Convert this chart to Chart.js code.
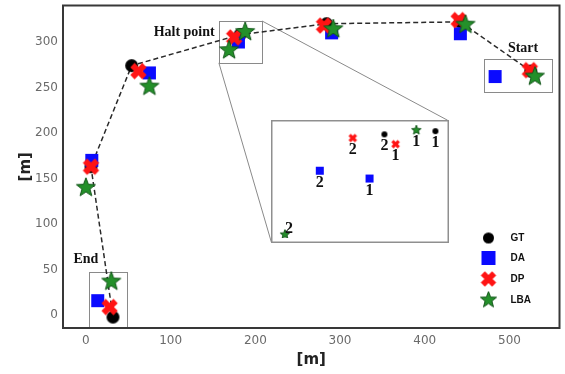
<!DOCTYPE html>
<html>
<head>
<meta charset="utf-8">
<script src="https://cdn.jsdelivr.net/npm/chart.js@4/dist/chart.umd.min.js"></script>
<style>
  html, body { margin: 0; padding: 0; background: #fff; }
  #wrap { position: relative; width: 565px; height: 374px; }
  #main { position: absolute; left: 0; top: 0; }
  #insetBox { position: absolute; }
  #inset { display: block; background: #fff; }
</style>
</head>
<body>
<div id="wrap">
  <canvas id="main" width="565" height="374"></canvas>
  <div id="insetBox"><canvas id="inset"></canvas></div>
</div>
<script>
// Estimated positions along the route [m]
const gtX  = [525, 442, 284, 182, 54, 6, 32];
const gtY  = [268, 322, 320, 308, 274, 163, -2];
const daX  = [483, 442, 290, 180, 75, 7, 14];
const daY  = [262, 309, 310, 300, 266, 170, 16];
const dpX  = [524, 440, 281, 175, 62, 6, 28];
const dpY  = [269, 324, 318, 305, 268, 163, 9];
const lbaX = [530, 448, 292, 188, 169, 75, 0, 30];
const lbaY = [262, 319, 314, 311, 291, 251, 140, 37];

// Close-up of the halt point: first and second visit
const visitLabels = ['1', '2'];
const insetGtX  = [205.4, 189.9];
const insetGtY  = [320.5, 319.2];
const insetDaX  = [185.4, 170.3];
const insetDaY  = [301.2, 304.4];
const insetDpX  = [193.3, 180.3];
const insetDpY  = [315.2, 317.7];
const insetLbaX = [199.6, 159.7];
const insetLbaY = [320.9, 278.4];
const haltZoomX = [157, 208];
const haltZoomY = [277, 323];

// Axis ticks
const xTicks = [0, 100, 200, 300, 400, 500];
const yTicks = [0, 50, 100, 150, 200, 250, 300];

const seriesNames = ['GT', 'DA', 'DP', 'LBA'];

const pts = (xs, ys) => xs.map((x, i) => ({ x, y: ys[i] }));

// Marker images
function marker(kind, size) {
  const pad = 3;
  const c = document.createElement('canvas');
  c.width = c.height = Math.ceil(size + pad * 2);
  const g = c.getContext('2d');
  const cx = c.width / 2, cy = c.height / 2, r = size / 2;
  if (kind === 'circle') {
    g.fillStyle = '#000';
    g.beginPath(); g.arc(cx, cy, r, 0, Math.PI * 2); g.fill();
  } else if (kind === 'square') {
    g.fillStyle = '#0a0aff';
    g.fillRect(cx - r, cy - r, size, size);
  } else if (kind === 'x') {
    const w = r * 0.36;
    g.save(); g.translate(cx, cy); g.rotate(Math.PI / 4);
    g.fillStyle = '#ff1414';
    g.beginPath();
    g.moveTo(-w, -r); g.lineTo(w, -r); g.lineTo(w, -w); g.lineTo(r, -w);
    g.lineTo(r, w); g.lineTo(w, w); g.lineTo(w, r); g.lineTo(-w, r);
    g.lineTo(-w, w); g.lineTo(-r, w); g.lineTo(-r, -w); g.lineTo(-w, -w);
    g.closePath(); g.fill();
    g.restore();
  } else if (kind === 'star') {
    const inner = r * 0.42;
    g.beginPath();
    for (let i = 0; i < 10; i++) {
      const rr = i % 2 === 0 ? r : inner;
      const a = -Math.PI / 2 + i * Math.PI / 5;
      const px = cx + rr * Math.cos(a), py = cy + rr * Math.sin(a);
      i === 0 ? g.moveTo(px, py) : g.lineTo(px, py);
    }
    g.closePath();
    g.fillStyle = '#24902a';
    g.fill();
    g.lineWidth = 1;
    g.strokeStyle = '#13561a';
    g.stroke();
  }
  return c;
}

const mainMarkers = [marker('circle', 13), marker('square', 13), marker('x', 17), marker('star', 20)];
const legendMarkers = [marker('circle', 11), marker('square', 14), marker('x', 16), marker('star', 17)];
const insetMarkers = [marker('circle', 6), marker('square', 8), marker('x', 9), marker('star', 10)];

// Boxes, connectors, labels, frame and legend for the main plot
const decor = {
  id: 'decor',
  beforeDatasetsDraw(chart) {
    const { ctx, scales: { x, y } } = chart;
    const X = v => x.getPixelForValue(v), Y = v => y.getPixelForValue(v);
    ctx.save();
    ctx.strokeStyle = '#8a8a8a';
    ctx.lineWidth = 1;
    const rect = (x0, x1, y0, y1) => {
      ctx.strokeRect(Math.round(X(x0)) + 0.5, Math.round(Y(y1)) + 0.5,
        Math.round(X(x1) - X(x0)), Math.round(Y(y0) - Y(y1)));
    };
    rect(haltZoomX[0], haltZoomX[1], haltZoomY[0], haltZoomY[1]);
    rect(470, 550, 245, 281);
    rect(4, 49, -12, 48);
    // connectors from the halt box to the close-up
    ctx.beginPath();
    ctx.moveTo(X(haltZoomX[1]), Y(haltZoomY[1]));
    ctx.lineTo(X(427), Y(214));
    ctx.moveTo(X(haltZoomX[0]), Y(haltZoomY[0]));
    ctx.lineTo(X(219), Y(80));
    ctx.stroke();
    // place names
    ctx.fillStyle = '#111';
    ctx.font = 'bold 14px "Liberation Serif", "DejaVu Serif", serif';
    ctx.textAlign = 'center';
    ctx.textBaseline = 'middle';
    ctx.fillText('Halt point', X(116), Y(310));
    ctx.fillText('Start', X(516), Y(293));
    ctx.fillText('End', X(0), Y(61.5));
    ctx.restore();
  },
  afterDraw(chart) {
    const { ctx, chartArea: a } = chart;
    ctx.save();
    ctx.strokeStyle = '#383838';
    ctx.lineWidth = 2;
    ctx.strokeRect(a.left, a.top, a.right - a.left, a.bottom - a.top);
    // legend
    const rows = [a.bottom - 90, a.bottom - 70, a.bottom - 49, a.bottom - 28];
    ctx.font = 'bold 10px "Liberation Sans", Arial, sans-serif';
    ctx.fillStyle = '#111';
    ctx.textAlign = 'left';
    ctx.textBaseline = 'middle';
    seriesNames.forEach((name, i) => {
      const m = legendMarkers[i];
      ctx.drawImage(m, a.right - 71 - m.width / 2, rows[i] - m.height / 2);
      ctx.fillText(name, a.right - 49, rows[i]);
    });
    ctx.restore();
  }
};

const mainChart = new Chart(document.getElementById('main'), {
  type: 'scatter',
  data: {
    datasets: [
      { label: 'GT', data: pts(gtX, gtY), showLine: true, borderColor: '#2a2a2a',
        borderWidth: 1.5, borderDash: [5, 3], pointStyle: mainMarkers[0], order: 4 },
      { label: 'DA', data: pts(daX, daY), pointStyle: mainMarkers[1], order: 3 },
      { label: 'DP', data: pts(dpX, dpY), pointStyle: mainMarkers[2], order: 2 },
      { label: 'LBA', data: pts(lbaX, lbaY), pointStyle: mainMarkers[3], order: 1 }
    ]
  },
  options: {
    responsive: false,
    animation: false,
    devicePixelRatio: 1,
    layout: { padding: { top: 5, right: 2, left: 0, bottom: 0 } },
    plugins: { legend: { display: false }, tooltip: { enabled: false } },
    scales: {
      x: {
        type: 'linear', min: -27, max: 559,
        grid: { display: false, drawTicks: false }, border: { display: false },
        afterBuildTicks: s => { s.ticks = xTicks.map(v => ({ value: v })); },
        ticks: { color: '#6a6a6a', padding: 6, maxRotation: 0,
          font: { family: '"DejaVu Sans", sans-serif', size: 12 } },
        title: { display: true, text: '[m]', color: '#222',
          padding: { top: 0, bottom: 5 },
          font: { family: '"DejaVu Sans", sans-serif', size: 15, weight: 'bold' } },
        afterFit: s => { s.height = 46; s.paddingLeft = 0; s.paddingRight = 0; }
      },
      y: {
        type: 'linear', min: -14, max: 340,
        grid: { display: false, drawTicks: false }, border: { display: false },
        afterBuildTicks: s => { s.ticks = yTicks.map(v => ({ value: v })); },
        ticks: { color: '#6a6a6a', padding: 5,
          font: { family: '"DejaVu Sans", sans-serif', size: 12 } },
        title: { display: true, text: '[m]', color: '#222',
          padding: { top: 17, bottom: 0 },
          font: { family: '"DejaVu Sans", sans-serif', size: 15, weight: 'bold' } },
        afterFit: s => { s.width = 63; s.paddingTop = 0; s.paddingBottom = 0; }
      }
    }
  },
  plugins: [decor]
});

// Close-up panel placed over its frame in the main plot
const sx = mainChart.scales.x, sy = mainChart.scales.y;
const boxL = Math.round(sx.getPixelForValue(219)), boxR = Math.round(sx.getPixelForValue(427));
const boxT = Math.round(sy.getPixelForValue(214)), boxB = Math.round(sy.getPixelForValue(80));
const insetBox = document.getElementById('insetBox');
insetBox.style.left = boxL + 'px';
insetBox.style.top = boxT + 'px';
const insetCanvas = document.getElementById('inset');
insetCanvas.width = boxR - boxL + 1;
insetCanvas.height = boxB - boxT + 1;

const visitText = {
  id: 'visitText',
  afterDatasetsDraw(chart) {
    const { ctx, chartArea: a } = chart;
    ctx.save();
    ctx.fillStyle = '#111';
    ctx.font = 'bold 16px "Liberation Serif", "DejaVu Serif", serif';
    ctx.textAlign = 'center';
    ctx.textBaseline = 'middle';
    chart.data.datasets.forEach((ds, di) => {
      chart.getDatasetMeta(di).data.forEach((el, i) => {
        if (el.y + 18 > a.bottom) ctx.fillText(visitLabels[i], el.x + 4, el.y - 6);
        else ctx.fillText(visitLabels[i], el.x, el.y + 12);
      });
    });
    ctx.restore();
  },
  afterDraw(chart) {
    const ctx = chart.ctx;
    ctx.save();
    ctx.strokeStyle = '#8f8f8f';
    ctx.lineWidth = 1.5;
    ctx.strokeRect(0.75, 0.75, chart.width - 1.5, chart.height - 1.5);
    ctx.restore();
  }
};

new Chart(insetCanvas, {
  type: 'scatter',
  data: {
    datasets: [
      { label: 'GT', data: pts(insetGtX, insetGtY), pointStyle: insetMarkers[0], order: 4 },
      { label: 'DA', data: pts(insetDaX, insetDaY), pointStyle: insetMarkers[1], order: 3 },
      { label: 'DP', data: pts(insetDpX, insetDpY), pointStyle: insetMarkers[2], order: 2 },
      { label: 'LBA', data: pts(insetLbaX, insetLbaY), pointStyle: insetMarkers[3], order: 1 }
    ]
  },
  options: {
    responsive: false,
    animation: false,
    devicePixelRatio: 1,
    layout: { padding: 0 },
    plugins: { legend: { display: false }, tooltip: { enabled: false } },
    scales: {
      x: { type: 'linear', min: haltZoomX[0], max: haltZoomX[1], display: false },
      y: { type: 'linear', min: haltZoomY[0], max: haltZoomY[1], display: false }
    }
  },
  plugins: [visitText]
});
</script>
</body>
</html>
